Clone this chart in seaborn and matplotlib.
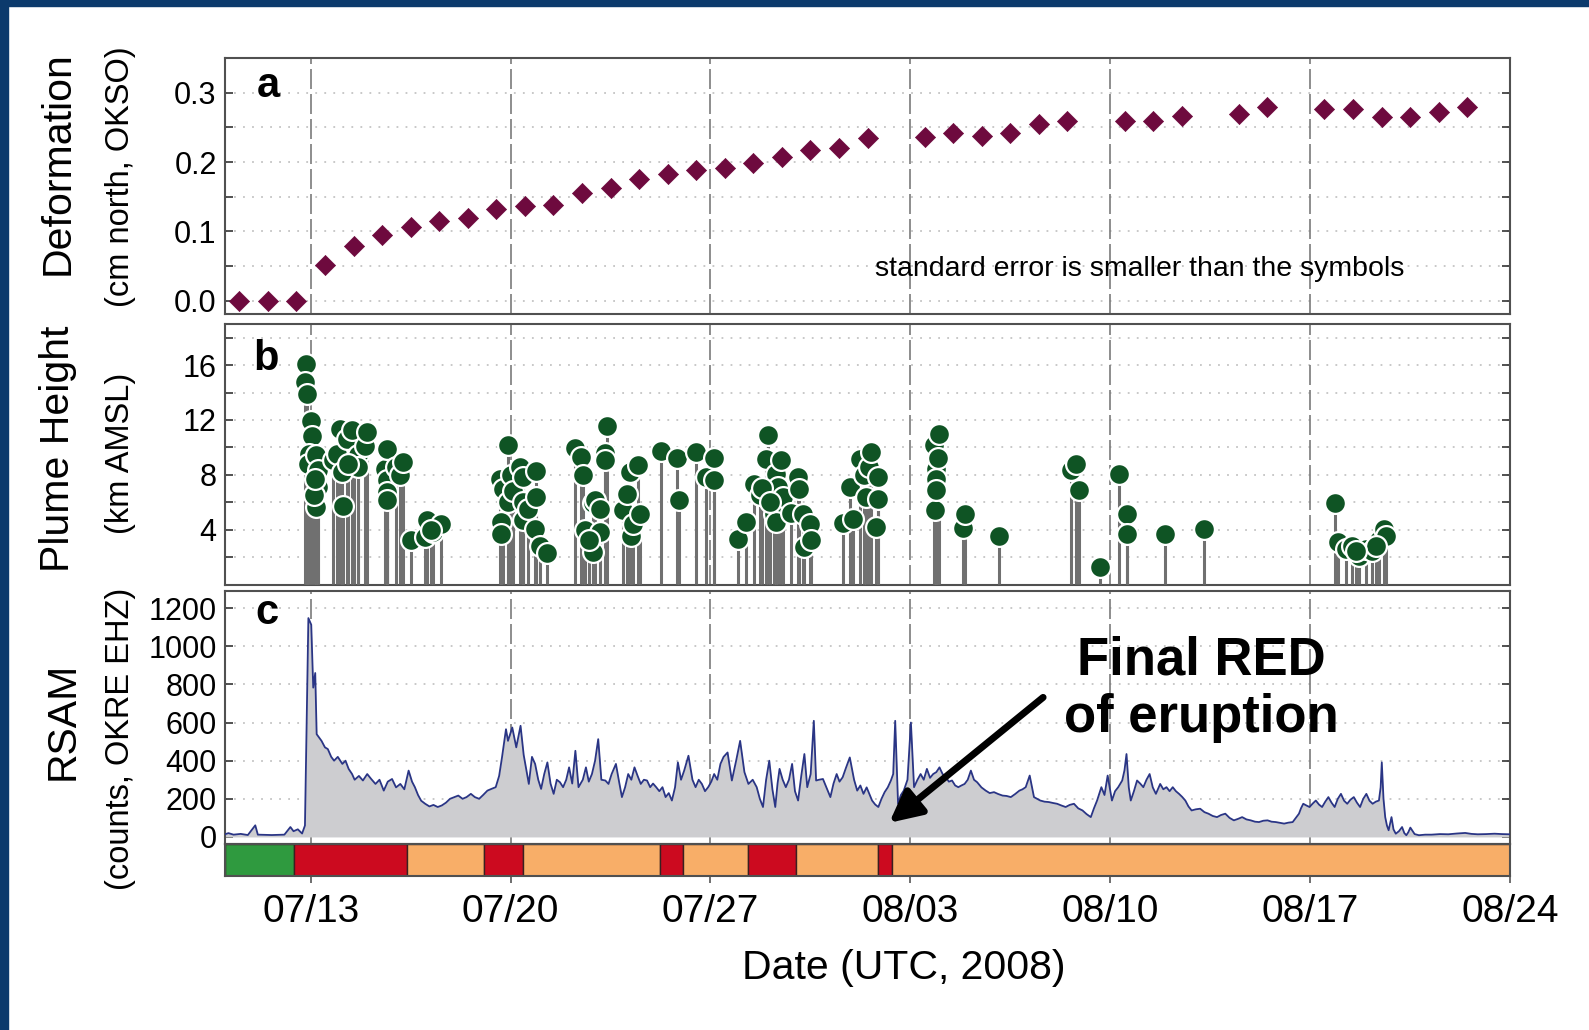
import numpy as np
import pandas as pd
import matplotlib
matplotlib.use("Agg")
import matplotlib.pyplot as plt
from matplotlib.patches import Rectangle
import seaborn as sns

# ---------------- data (x = days since 2008-07-10 00:00 UTC) ----------------
deform_day = [0.5, 1.5, 2.5, 3.5, 4.5, 5.5, 6.5, 7.5, 8.5, 9.5, 10.5, 11.5, 12.5, 13.5,
              14.5, 15.5, 16.5, 17.5, 18.5, 19.5, 20.5, 21.5, 22.5,
              24.5, 25.5, 26.5, 27.5, 28.5, 29.5, 31.5, 32.5, 33.5, 35.5, 36.5,
              38.5, 39.5, 40.5, 41.5, 42.5, 43.5]
deform_cm = [0.0, 0.0, 0.0, 0.052, 0.079, 0.095, 0.106, 0.1155, 0.120, 0.132, 0.136, 0.1385,
             0.155, 0.163, 0.175, 0.183, 0.189, 0.192, 0.198, 0.207, 0.218, 0.220, 0.234,
             0.236, 0.242, 0.237, 0.242, 0.255, 0.259, 0.259, 0.259, 0.267, 0.270, 0.279,
             0.277, 0.276, 0.265, 0.265, 0.272, 0.280]

plume_day = [2.83, 2.80, 2.88, 3.00, 3.03, 2.95, 2.90, 3.18, 3.27, 3.24, 3.20, 3.10, 3.15,
             3.79, 3.91, 4.02, 4.08, 4.14, 4.26, 4.43, 4.50, 4.66, 4.66, 4.90, 4.96, 4.30,
             5.60, 5.66, 5.66, 5.66, 5.66, 5.98, 6.12, 6.24,
             6.53, 7.00, 7.06, 7.29, 7.58, 7.20,
             9.62, 9.68, 9.68, 9.74, 9.92, 9.92, 10.00, 10.10, 10.32, 10.44, 10.44, 10.44,
             10.60, 10.85, 10.90, 10.90, 11.02, 11.26,
             12.25, 12.48, 12.54, 12.60, 12.89, 12.89, 12.95, 13.12, 13.12, 12.75, 13.30,
             13.30, 13.36,
             13.94, 14.08, 14.17, 14.23, 14.29, 14.46, 14.52,
             15.28, 15.83, 15.90, 16.51, 16.85, 17.11, 17.11,
             17.98, 18.25, 18.54, 18.72, 18.93, 19.00, 19.24, 19.30, 19.30, 19.36, 19.48,
             19.54, 19.83, 20.06, 20.10, 20.23, 20.29, 20.47, 20.53, 18.80, 19.10,
             21.63, 21.87, 21.98, 22.22, 22.39, 22.45, 22.57, 22.63, 22.80, 22.86, 22.86,
             24.84, 24.88, 24.90, 24.90, 24.90, 24.98, 24.99, 25.86, 25.93, 27.10,
             29.63, 29.80, 29.89, 30.64, 31.32, 31.60, 31.60, 32.92, 34.29,
             38.87, 38.96, 39.25, 39.48, 39.71, 39.95, 40.18, 40.41, 40.59, 40.65, 40.30, 39.60]
plume_km = [16.06, 14.77, 13.9, 11.9, 10.8, 9.5, 8.8, 9.46, 8.36, 7.09, 5.63, 6.5, 7.7,
            9.04, 9.53, 11.36, 8.19, 5.75, 10.6, 11.29, 9.0, 9.41, 8.55, 10.07, 11.1, 8.8,
            8.44, 9.9, 7.58, 6.73, 6.12, 8.55, 7.95, 8.92,
            3.2, 3.44, 4.66, 3.8, 4.4, 4.0,
            7.7, 4.53, 3.68, 6.97, 10.14, 6.0, 8.0, 6.8, 8.55, 7.82, 6.0, 4.66,
            5.5, 4.05, 8.26, 6.36, 2.83, 2.27,
            9.97, 9.3, 8.0, 3.93, 5.9, 2.34, 6.12, 5.51, 3.8, 3.2, 9.6,
            9.04, 11.53,
            5.44, 6.61, 8.19, 3.56, 4.42, 8.68, 5.15,
            9.7, 9.24, 6.17, 9.65, 7.82, 9.24, 7.58,
            3.32, 4.53, 7.29, 6.49, 9.17, 10.87, 5.15, 8.07, 4.53, 7.09, 9.1,
            6.36, 5.19, 7.82, 6.97, 5.15, 2.71, 4.42, 3.2, 7.0, 6.0,
            4.46, 7.09, 4.78, 9.17, 7.95, 6.36, 8.55, 9.65, 4.17, 7.82, 6.24,
            10.14, 5.39, 8.44, 7.7, 6.9, 9.24, 10.94, 4.12, 5.15, 3.51,
            8.31, 8.75, 6.9, 1.3, 8.02, 5.1, 3.68, 3.68, 4.05,
            5.92, 3.07, 2.59, 2.83, 2.1, 2.59, 2.46, 3.2, 4.05, 3.56, 2.8, 2.4]

rsam_day = [0.00, 0.12, 0.30, 0.55, 0.80, 1.06, 1.15, 1.64, 2.08, 2.29, 2.40, 2.55, 2.70,
            2.80, 2.87, 2.92, 3.02, 3.09, 3.16, 3.21, 3.30, 3.38, 3.50, 3.60, 3.72, 3.82,
            3.95, 4.11, 4.22, 4.33, 4.45, 4.54, 4.69, 4.83, 4.98, 5.12, 5.27, 5.41, 5.56,
            5.70, 5.85, 5.99, 6.14, 6.28, 6.43, 6.55, 6.65, 6.76, 6.87, 7.01, 7.16, 7.30,
            7.45, 7.59, 7.74, 7.88, 8.03, 8.17, 8.32, 8.46, 8.61, 8.75, 8.90, 9.04, 9.19,
            9.33, 9.48, 9.60, 9.70, 9.84, 9.91, 10.06, 10.20, 10.35, 10.46, 10.64, 10.75,
            10.86, 10.97, 11.07, 11.18, 11.29, 11.40, 11.51, 11.62, 11.73, 11.84, 11.95,
            12.05, 12.16, 12.27, 12.38, 12.53, 12.64, 12.74, 12.85, 12.96, 13.07, 13.18,
            13.32, 13.43, 13.54, 13.69, 13.80, 13.90, 14.01, 14.12, 14.23, 14.34, 14.45,
            14.56, 14.67, 14.78, 14.89, 14.99, 15.10, 15.21, 15.32, 15.43, 15.54, 15.65,
            15.76, 15.86, 15.97, 16.08, 16.23, 16.37, 16.48, 16.59, 16.70, 16.81, 16.92,
            17.03, 17.13, 17.24, 17.35, 17.46, 17.60, 17.75, 17.90, 18.04, 18.19, 18.33,
            18.48, 18.62, 18.73, 18.84, 18.95, 19.06, 19.17, 19.27, 19.35, 19.42, 19.53,
            19.64, 19.75, 19.86, 19.96, 20.07, 20.18, 20.29, 20.39, 20.51, 20.62, 20.70,
            20.80, 20.94, 21.09, 21.20, 21.31, 21.42, 21.52, 21.63, 21.74, 21.88, 22.03,
            22.14, 22.25, 22.36, 22.47, 22.66, 22.77, 22.88, 22.99, 23.10, 23.21, 23.32,
            23.40, 23.47, 23.57, 23.67, 23.77, 23.90, 24.02, 24.13, 24.25, 24.36, 24.47,
            24.58, 24.69, 24.80, 24.91, 25.02, 25.13, 25.24, 25.35, 25.46, 25.57, 25.68,
            25.79, 25.90, 26.01, 26.12, 26.23, 26.34, 26.49, 26.64, 26.78, 26.93, 27.08,
            27.23, 27.37, 27.52, 27.67, 27.82, 27.93, 28.04, 28.18, 28.33, 28.44, 28.55,
            28.70, 28.85, 29.00, 29.14, 29.29, 29.44, 29.58, 29.73, 29.88, 30.03, 30.17,
            30.32, 30.43, 30.54, 30.69, 30.80, 30.91, 31.06, 31.17, 31.28, 31.42, 31.50,
            31.57, 31.65, 31.72, 31.83, 31.94, 32.05, 32.16, 32.27, 32.38, 32.49, 32.60,
            32.75, 32.86, 32.97, 33.08, 33.19, 33.30, 33.41, 33.52, 33.63, 33.74, 33.85,
            34.00, 34.15, 34.30, 34.44, 34.59, 34.74, 34.88, 35.03, 35.18, 35.33, 35.48,
            35.62, 35.77, 35.92, 36.07, 36.21, 36.36, 36.51, 36.65, 36.80, 36.95, 37.09,
            37.24, 37.39, 37.50, 37.61, 37.68, 37.76, 37.87, 37.98, 38.09, 38.20, 38.31,
            38.42, 38.53, 38.64, 38.75, 38.86, 38.97, 39.08, 39.19, 39.30, 39.41, 39.53,
            39.64, 39.75, 39.86, 39.97, 40.08, 40.19, 40.30, 40.41, 40.47, 40.51, 40.57,
            40.63, 40.69, 40.75, 40.85, 40.92, 41.00, 41.11, 41.22, 41.30, 41.37, 41.44,
            41.51, 41.66, 41.81, 42.03, 42.25, 42.55, 42.84, 43.14, 43.43, 43.65, 43.87,
            44.17, 44.46, 44.72, 44.98]
rsam_val = [14, 20, 12, 16, 10, 61, 12, 10, 12, 52, 30, 40, 18,
            60, 700, 1148, 1113, 783, 860, 539, 520, 504, 470, 461, 420, 400,
            420, 383, 400, 357, 330, 300, 320, 296, 330, 304, 278, 300, 243,
            290, 304, 260, 278, 250, 348, 290, 261, 220, 190, 174, 160, 168,
            157, 165, 180, 200, 209, 217, 200, 209, 226, 209, 200, 220, 243,
            252, 261, 320, 417, 565, 504, 574, 470, 583, 430, 278, 420,
            383, 300, 252, 330, 391, 280, 226, 300, 287, 261, 300,
            365, 280, 452, 261, 300, 365, 290, 330, 400, 513, 300,
            296, 278, 330, 383, 290, 209, 260, 330, 300, 365, 320,
            278, 300, 296, 261, 280, 261, 240, 261, 209, 230, 191,
            260, 391, 300, 348, 426, 300, 261, 300, 278, 240, 261,
            290, 330, 300, 383, 420, 443, 296, 400, 504, 340, 278,
            300, 261, 200, 157, 300, 400, 250, 157, 280, 357, 300,
            261, 300, 383, 240, 191, 320, 435, 261, 330, 609, 296,
            300, 304, 250, 209, 280, 330, 290, 313, 360, 417, 300,
            243, 270, 226, 260, 191, 170, 157, 200, 235, 260, 296,
            330, 609, 174, 220, 243, 300, 600, 261, 300, 330, 300,
            357, 310, 330, 340, 365, 330, 313, 290, 296, 270, 261,
            270, 278, 300, 348, 300, 287, 260, 243, 230, 235, 225,
            217, 215, 209, 225, 243, 250, 261, 322, 209, 200, 191,
            185, 183, 178, 174, 165, 157, 168, 174, 150, 139, 120,
            104, 150, 191, 261, 220, 322, 191, 240, 261, 296, 350,
            435, 260, 191, 240, 296, 280, 261, 300, 330, 260, 226,
            278, 250, 261, 240, 261, 240, 226, 210, 191, 160, 139,
            145, 148, 130, 122, 110, 104, 115, 122, 100, 87, 95,
            104, 92, 87, 80, 78, 85, 87, 80, 78, 74, 70,
            75, 78, 100, 122, 150, 174, 165, 157, 175, 191, 170,
            157, 185, 209, 180, 157, 200, 226, 190, 174, 195, 209,
            180, 157, 200, 226, 190, 174, 185, 191, 260, 391, 200,
            104, 60, 35, 104, 40, 17, 30, 52, 20, 9, 25,
            49, 15, 9, 12, 12, 15, 14, 18, 21, 16, 14,
            15, 17, 15, 14]

alert_start = [0.0, 2.40, 6.36, 9.07, 10.45, 15.25, 16.05, 18.33, 20.00, 22.88, 23.37]
alert_end = [2.40, 6.36, 9.07, 10.45, 15.25, 16.05, 18.33, 20.00, 22.88, 23.37, 45.0]
alert_level = ["GREEN", "RED", "ORANGE", "RED", "ORANGE", "RED", "ORANGE", "RED",
               "ORANGE", "RED", "ORANGE"]

tick_days = [3, 10, 17, 24, 31, 38, 45]
tick_labels = ["07/13", "07/20", "07/27", "08/03", "08/10", "08/17", "08/24"]

# ---------------- style ----------------
sns.set_style("ticks")
plt.rcParams["font.family"] = ["Liberation Sans", "DejaVu Sans"]
plt.rcParams["axes.linewidth"] = 1.5
plt.rcParams["text.color"] = "black"
plt.rcParams["xtick.color"] = "black"
plt.rcParams["ytick.color"] = "black"
plt.rcParams["xtick.labelcolor"] = "black"
plt.rcParams["ytick.labelcolor"] = "black"

alert_colors = {"GREEN": "#2f9a3f", "RED": "#cc0a1f", "ORANGE": "#f8ae68"}
grid_kw = dict(color="#c4c4c4", linestyle=(0, (1, 4)), linewidth=1.3)
spine_c = "#505050"

W, H = 1589, 1030
fig = plt.figure(figsize=(W / 100, H / 100), dpi=100)
fig.patch.set_facecolor("white")

def frac_box(left, top, right, bottom):
    return [left / W, 1 - bottom / H, (right - left) / W, (bottom - top) / H]

L, R = 225, 1510
ax_a = fig.add_axes(frac_box(L, 58, R, 314))
ax_b = fig.add_axes(frac_box(L, 324, R, 585))
ax_c = fig.add_axes(frac_box(L, 591, R, 844))
ax_k = fig.add_axes(frac_box(L, 844, R, 876))

for ax in (ax_a, ax_b, ax_c, ax_k):
    ax.set_xlim(0, 45)
    for s in ax.spines.values():
        s.set_color(spine_c)
        s.set_linewidth(1.5)

for ax in (ax_a, ax_b, ax_c):
    ax.set_xticks(tick_days)
    ax.tick_params(axis="x", length=0, labelbottom=False)
    ax.tick_params(axis="y", direction="in", length=6, width=1.2, color="#333",
                   labelsize=22, pad=6, left=True, right=True, labelcolor="black")
    for d in tick_days[:-1]:
        ax.axvline(d, color="#7a7a7a", lw=1.2, linestyle=(0, (12, 3)), zorder=1)
    ax.set_xlabel("")
    ax.set_ylabel("")

# ---- panel a ----
ax_a.set_ylim(-0.019, 0.35)
ax_a.set_yticks(np.arange(0, 0.351, 0.05))
ax_a.set_yticklabels(["0.0", "", "0.1", "", "0.2", "", "0.3", ""])
for v in np.arange(0, 0.351, 0.05):
    ax_a.axhline(v, zorder=0, **grid_kw)
sns.scatterplot(x=deform_day, y=deform_cm, ax=ax_a, marker="D", s=105,
                color="#6e0a3e", edgecolor="#6e0a3e", linewidth=0.5, zorder=5)
ax_a.text(0.034, 0.89, "a", transform=ax_a.transAxes, fontsize=30,
          fontweight="bold", ha="center", va="center")
ax_a.text(0.712, 0.174, "standard error is smaller than the symbols",
          transform=ax_a.transAxes, fontsize=20.5, ha="center", va="center")

# ---- panel b ----
ax_b.set_ylim(-0.05, 19)
ax_b.set_yticks(np.arange(2, 19, 2))
ax_b.set_yticklabels(["", "4", "", "8", "", "12", "", "16", ""])
for v in np.arange(2, 19, 2):
    ax_b.axhline(v, zorder=0, **grid_kw)
ax_b.vlines(plume_day, 0, plume_km, color="#707070", lw=2.2, zorder=3)
sns.scatterplot(x=plume_day, y=plume_km, ax=ax_b, marker="o", s=225,
                color="#0f5424", edgecolor="white", linewidth=1.6, zorder=5)
ax_b.text(0.0315, 0.864, "b", transform=ax_b.transAxes, fontsize=30,
          fontweight="bold", ha="center", va="center")

# ---- panel c ----
ax_c.set_ylim(-37, 1290)
ax_c.set_yticks(np.arange(0, 1201, 200))
for v in np.arange(200, 1201, 200):
    ax_c.axhline(v, zorder=0, **grid_kw)
ax_c.fill_between(rsam_day, 0, rsam_val, color="#cdcdd0", lw=0, zorder=2)
sns.lineplot(x=rsam_day, y=rsam_val, ax=ax_c, color="#2a3585", lw=1.3,
             sort=True, estimator=None, zorder=4)
ax_c.text(0.0325, 0.912, "c", transform=ax_c.transAxes, fontsize=30,
          fontweight="bold", ha="center", va="center")
ax_c.text(34.2, 775, "Final RED\nof eruption", fontsize=38, fontweight="bold",
          ha="center", va="center", linespacing=1.2, zorder=8, color="black")
ax_c.annotate("", xy=(23.26, 74), xytext=(28.65, 732),
              arrowprops=dict(arrowstyle="-|>", lw=5, color="black",
                              mutation_scale=48, shrinkA=0, shrinkB=0),
              zorder=8)

# ---- alert-level bar ----
ax_k.set_ylim(0, 1)
ax_k.set_yticks([])
ax_k.broken_barh([(s, e - s) for s, e in zip(alert_start, alert_end)], (0, 1),
                 facecolors=[alert_colors[a] for a in alert_level],
                 edgecolor="#3a2020", linewidth=1.0)
ax_k.set_xticks(tick_days)
ax_k.set_xticklabels(tick_labels)
ax_k.tick_params(axis="x", direction="out", length=5, width=1.2, color="#555",
                 labelsize=28, pad=8, labelcolor="black")

# ---- axis titles ----
fig.text(58 / W, 1 - 163 / H, "Deformation", rotation=90, fontsize=29.5,
         ha="center", va="center")
fig.text(120 / W, 1 - 177 / H, "(cm north, OKSO)", rotation=90, fontsize=23.5,
         ha="center", va="center")
fig.text(58 / W, 1 - 449 / H, "Plume Height", rotation=90, fontsize=29.5,
         ha="center", va="center")
fig.text(120 / W, 1 - 453 / H, "(km AMSL)", rotation=90, fontsize=23.5,
         ha="center", va="center")
fig.text(63 / W, 1 - 721 / H, "RSAM", rotation=90, fontsize=29.5,
         ha="center", va="center")
fig.text(120 / W, 1 - 739 / H, "(counts, OKRE EHZ)", rotation=90, fontsize=23.5,
         ha="center", va="center")
fig.text(904 / W, 1 - 968 / H, "Date (UTC, 2008)", fontsize=29.5,
         ha="center", va="center")

# ---- slide frame ----
frame_c = "#0c3a6c"
fig.patches.append(Rectangle((0, 1 - 6 / H), 1, 6 / H, transform=fig.transFigure,
                             color=frame_c, zorder=0))
fig.patches.append(Rectangle((0, 0), 8 / W, 1, transform=fig.transFigure,
                             color=frame_c, zorder=0))

fig.savefig("out.png", dpi=100, facecolor="white")
